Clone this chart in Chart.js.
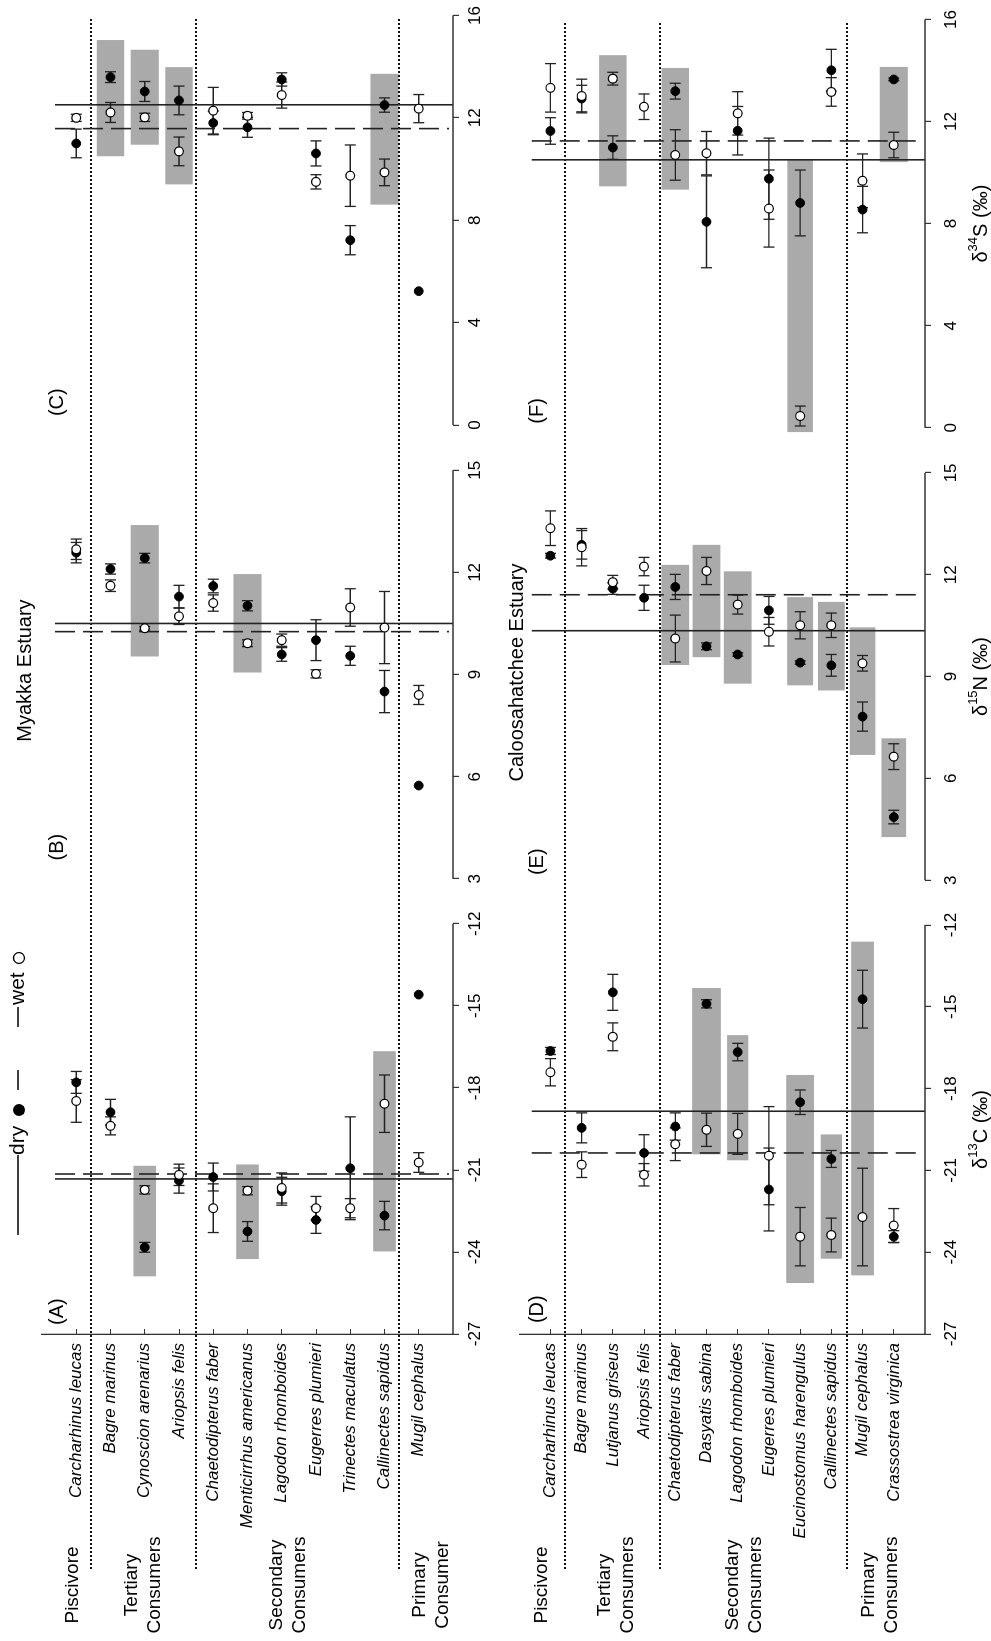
<!DOCTYPE html>
<html>
<head>
<meta charset="utf-8">
<script src="https://cdn.jsdelivr.net/npm/chart.js@4.4.1/dist/chart.umd.min.js"></script>
<style>
  html, body { margin: 0; padding: 0; width: 991px; height: 1641px; overflow: hidden; background: #fff; }
  /* figure is laid out landscape, then turned a quarter turn to the left */
  #fig { position: absolute; left: 0; top: 0; width: 1641px; height: 991px;
         transform-origin: 0 0; transform: translateY(1641px) rotate(-90deg); }
  #fig canvas { position: absolute; left: 0; }
  #rowTop { top: 0; }
  #rowBot { top: 495px; }
</style>
</head>
<body>
<div id="fig">
  <canvas id="rowTop" width="1641" height="495"></canvas>
  <canvas id="rowBot" width="1641" height="496"></canvas>
</div>
<script>
var FONT = '"Liberation Sans", Arial, Helvetica, sans-serif';

// tick labels of the three value axes
var carbonTicks = [-27, -24, -21, -18, -15, -12];
var nitrogenTicks = [3, 6, 9, 12, 15];
var sulfurTicks = [0, 4, 8, 12, 16];

// ---- Myakka Estuary ----
var myakkaSpecies = ['Carcharhinus leucas', 'Bagre marinus', 'Cynoscion arenarius', 'Ariopsis felis',
  'Chaetodipterus faber', 'Menticirrhus americanus', 'Lagodon rhomboides', 'Eugerres plumieri',
  'Trinectes maculatus', 'Callinectes sapidus', 'Mugil cephalus'];
var myakkaGroups = [
  { lines: ['Piscivore'], at: 0.91 },
  { lines: ['Tertiary', 'Consumers'], at: 2.97 },
  { lines: ['Secondary', 'Consumers'], at: 7.18 },
  { lines: ['Primary', 'Consumer'], at: 11.37 }
];
var myakkaSeparators = [1.43, 4.5, 10.42];

var myakkaCarbonDry = [-17.80, -18.89, -23.83, -21.39, -21.26, -23.25, -21.78, -22.83, -20.94, -22.67, -14.59];
var myakkaCarbonDryErr = [0.40, 0.47, 0.18, 0.46, 0.51, 0.36, 0.51, 0.49, 1.88, 0.52, 0];
var myakkaCarbonWet = [-18.48, -19.39, -21.73, -21.18, -22.40, -21.76, -21.66, -22.40, -22.40, -18.58, -20.73];
var myakkaCarbonWetErr = [0.78, 0.33, 0.15, 0.39, 0.89, 0.15, 0.55, 0.43, 0.35, 1.05, 0.36];
var myakkaCarbonMeans = [-21.33, -21.15];            // dry (solid), wet (dashed)
var myakkaCarbonShade = [[3, -24.89, -20.85], [6, -24.26, -20.80], [10, -23.98, -16.66]];

var myakkaNitrogenDry = [12.58, 12.10, 12.42, 11.29, 11.60, 11.02, 9.59, 10.01, 9.55, 8.50, 5.74];
var myakkaNitrogenDryErr = [0.30, 0.15, 0.14, 0.33, 0.20, 0.15, 0.20, 0.60, 0.28, 0.62, 0];
var myakkaNitrogenWet = [12.68, 11.61, 10.36, 10.71, 11.10, 9.92, 10.01, 9.02, 10.97, 10.38, 8.40];
var myakkaNitrogenWetErr = [0.30, 0.17, 0.05, 0.24, 0.24, 0.10, 0.18, 0.12, 0.55, 1.06, 0.28];
var myakkaNitrogenMeans = [10.50, 10.26];
var myakkaNitrogenShade = [[3, 9.53, 13.39], [6, 9.06, 11.95]];

var myakkaSulfurDry = [11.00, 13.59, 13.03, 12.68, 11.80, 11.63, 13.50, 10.61, 7.22, 12.50, 5.23];
var myakkaSulfurDryErr = [0.56, 0.21, 0.39, 0.56, 0.46, 0.39, 0.26, 0.49, 0.57, 0.28, 0];
var myakkaSulfurWet = [12.00, 12.21, 12.02, 10.69, 12.28, 12.08, 12.89, 9.50, 9.74, 9.87, 12.36];
var myakkaSulfurWetErr = [0.14, 0.39, 0.16, 0.56, 0.91, 0.13, 0.51, 0.28, 1.20, 0.52, 0.55];
var myakkaSulfurMeans = [12.51, 11.58];
var myakkaSulfurShade = [[2, 10.50, 15.04], [3, 10.95, 14.66], [4, 9.40, 13.98], [10, 8.61, 13.72]];

// ---- Caloosahatchee Estuary ----
var caloSpecies = ['Carcharhinus leucas', 'Bagre marinus', 'Lutjanus griseus', 'Ariopsis felis',
  'Chaetodipterus faber', 'Dasyatis sabina', 'Lagodon rhomboides', 'Eugerres plumieri',
  'Eucinostomus harengulus', 'Callinectes sapidus', 'Mugil cephalus', 'Crassostrea virginica'];
var caloGroups = [
  { lines: ['Piscivore'], at: 0.72 },
  { lines: ['Tertiary', 'Consumers'], at: 3.12 },
  { lines: ['Secondary', 'Consumers'], at: 7.2 },
  { lines: ['Primary', 'Consumers'], at: 11.58 }
];
var caloSeparators = [1.47, 4.5, 10.5];

var caloCarbonDry = [-16.62, -19.44, -14.47, -20.36, -19.39, -14.89, -16.66, -21.70, -18.50, -20.58, -14.72, -23.43];
var caloCarbonDryErr = [0.13, 0.55, 0.66, 0.67, 0.50, 0.15, 0.32, 1.52, 0.45, 0.31, 1.06, 0.22];
var caloCarbonWet = [-17.40, -20.79, -16.10, -21.16, -20.04, -19.51, -19.66, -20.46, -23.43, -23.37, -22.71, -23.02];
var caloCarbonWetErr = [0.50, 0.47, 0.51, 0.41, 0.60, 0.61, 0.75, 1.80, 1.07, 0.62, 1.79, 0.62];
var caloCarbonMeans = [-18.83, -20.36];
var caloCarbonShade = [[6, -20.41, -14.31], [7, -20.63, -16.04], [9, -25.13, -17.50], [10, -24.24, -19.68], [11, -24.85, -12.61]];

var caloNitrogenDry = [12.56, 12.88, 11.59, 11.32, 11.64, 9.89, 9.65, 10.95, 9.41, 9.33, 7.82, 4.86];
var caloNitrogenDryErr = [0.07, 0.42, 0.17, 0.37, 0.37, 0.10, 0.05, 0.41, 0.05, 0.32, 0.43, 0.20];
var caloNitrogenWet = [13.37, 12.81, 11.78, 12.24, 10.12, 12.11, 11.12, 10.32, 10.51, 10.51, 9.39, 6.64];
var caloNitrogenWetErr = [0.51, 0.55, 0.20, 0.27, 0.69, 0.40, 0.28, 0.42, 0.40, 0.36, 0.23, 0.38];
var caloNitrogenMeans = [10.35, 11.41];
var caloNitrogenShade = [[5, 9.34, 12.29], [6, 9.57, 12.88], [7, 8.79, 12.10], [9, 8.74, 11.34], [10, 8.59, 11.20], [11, 6.69, 10.45], [12, 4.27, 7.18]];

var caloSulfurDry = [11.63, 12.90, 10.98, null, 13.19, 8.07, 11.64, 9.76, 8.81, 14.01, 8.55, 13.65];
var caloSulfurDryErr = [0.52, 0.52, 0.46, 0, 0.31, 1.80, 0.95, 1.59, 1.29, 0.82, 0.91, 0.05];
var caloSulfurWet = [13.32, 13.00, 13.68, 12.58, 10.69, 10.76, 12.32, 8.59, 0.46, 13.16, 9.68, 11.08];
var caloSulfurWetErr = [0.95, 0.66, 0.25, 0.50, 0.99, 0.85, 0.85, 1.51, 0.39, 0.56, 1.05, 0.50];
var caloSulfurMeans = [10.50, 11.24];
var caloSulfurShade = [[3, 9.46, 14.60], [5, 9.33, 14.10], [9, -0.17, 10.52], [12, 10.41, 14.14]];

// ---- layout / style ----
// each value axis gets a share of the plot width; ranges include the gap between panels
var axisLayout = {
  xC: { min: -27, max: -11.178, weight: 433.2, ticks: carbonTicks, title: ['δ', '13', 'C (‰)'] },
  xN: { min: 2.34, max: 15.665, weight: 454.15, ticks: nitrogenTicks, title: ['δ', '15', 'N (‰)'] },
  xS: { min: -0.884, max: 16, weight: 432.65, ticks: sulfurTicks, title: ['δ', '34', 'S (‰)'] }
};
var shadeWidths = {
  myakka: { xC: [0.66, 0.66, 0.66], xN: [0.82, 0.82], xS: [0.8, 0.82, 0.8, 0.82] },
  calo: { xC: [0.92, 0.68, 0.89, 0.68, 0.73], xN: [0.89, 0.89, 0.89, 0.83, 0.86, 0.82, 0.79], xS: [0.88, 0.88, 0.82, 0.9] }
};

function toPoints(vals) {
  var out = [];
  vals.forEach(function (v, i) { if (v !== null) out.push({ x: v, y: i + 1 }); });
  return out;
}

function drawBars(ctx, xs, ys, vals, errs) {
  vals.forEach(function (v, i) {
    var e = errs[i];
    if (v === null || !e) return;
    var y = ys.getPixelForValue(i + 1);
    var a = xs.getPixelForValue(v - e), b = xs.getPixelForValue(v + e);
    ctx.beginPath();
    ctx.moveTo(a, y); ctx.lineTo(b, y);
    ctx.moveTo(a, y - 5.5); ctx.lineTo(a, y + 5.5);
    ctx.moveTo(b, y - 5.5); ctx.lineTo(b, y + 5.5);
    ctx.stroke();
  });
}

function drawSupText(ctx, parts, cx, cy, size) {
  ctx.font = size + 'px ' + FONT;
  var w1 = ctx.measureText(parts[0]).width, w3 = ctx.measureText(parts[2]).width;
  ctx.font = Math.round(size * 0.65) + 'px ' + FONT;
  var w2 = ctx.measureText(parts[1]).width;
  var x = cx - (w1 + w2 + w3) / 2;
  ctx.textAlign = 'left';
  ctx.textBaseline = 'middle';
  ctx.font = size + 'px ' + FONT;
  ctx.fillText(parts[0], x, cy);
  ctx.font = Math.round(size * 0.65) + 'px ' + FONT;
  ctx.fillText(parts[1], x + w1, cy - size * 0.38);
  ctx.font = size + 'px ' + FONT;
  ctx.fillText(parts[2], x + w1 + w2, cy);
}

var figPlugin = {
  id: 'fig',
  beforeDatasetsDraw: function (chart) {
    var o = chart.options.plugins.fig;
    var ctx = chart.ctx, ys = chart.scales.y, area = chart.chartArea;
    ctx.save();
    // grey boxes
    ctx.fillStyle = '#aaaaaa';
    o.panels.forEach(function (p) {
      var xs = chart.scales[p.axis];
      p.shade.forEach(function (s, k) {
        var half = p.shadeW[k] / 2;
        var x1 = xs.getPixelForValue(s[1]), x2 = xs.getPixelForValue(s[2]);
        var y1 = ys.getPixelForValue(s[0] - half), y2 = ys.getPixelForValue(s[0] + half);
        ctx.fillRect(x1, y1, x2 - x1, y2 - y1);
      });
    });
    // dotted separators between trophic groups
    ctx.strokeStyle = '#111';
    ctx.lineWidth = 2;
    ctx.setLineDash([2, 2]);
    o.separators.forEach(function (s) {
      var y = Math.round(ys.getPixelForValue(s));
      ctx.beginPath(); ctx.moveTo(72, y); ctx.lineTo(area.right - 3, y); ctx.stroke();
    });
    // season means
    ctx.strokeStyle = '#222';
    ctx.lineWidth = 1.6;
    o.panels.forEach(function (p) {
      var xs = chart.scales[p.axis];
      var top = ys.getPixelForValue(o.meanFrom);
      var xd = xs.getPixelForValue(p.means[0]);
      ctx.setLineDash([]);
      ctx.beginPath(); ctx.moveTo(xd, top); ctx.lineTo(xd, area.bottom); ctx.stroke();
      var xw = xs.getPixelForValue(p.means[1]);
      ctx.setLineDash([20, 8]);
      ctx.beginPath(); ctx.moveTo(xw, top); ctx.lineTo(xw, area.bottom - 4); ctx.stroke();
    });
    ctx.setLineDash([]);
    // value axis lines from first to last tick
    ctx.strokeStyle = '#333';
    ctx.lineWidth = 1.3;
    o.panels.forEach(function (p) {
      var xs = chart.scales[p.axis];
      var t = axisLayout[p.axis].ticks;
      ctx.beginPath();
      ctx.moveTo(xs.getPixelForValue(t[0]), xs.top);
      ctx.lineTo(xs.getPixelForValue(t[t.length - 1]), xs.top);
      ctx.stroke();
    });
    // error bars
    ctx.strokeStyle = '#222';
    ctx.lineWidth = 1.3;
    o.panels.forEach(function (p) {
      var xs = chart.scales[p.axis];
      drawBars(ctx, xs, ys, p.dry, p.dryErr);
      drawBars(ctx, xs, ys, p.wet, p.wetErr);
    });
    ctx.restore();
  },
  afterDraw: function (chart) {
    var o = chart.options.plugins.fig;
    var ctx = chart.ctx, ys = chart.scales.y, area = chart.chartArea;
    ctx.save();
    ctx.fillStyle = '#000';
    // trophic group names
    ctx.font = '19px ' + FONT;
    ctx.textAlign = 'center';
    ctx.textBaseline = 'middle';
    o.groups.forEach(function (g) {
      var yc = ys.getPixelForValue(g.at);
      g.lines.forEach(function (line, j) {
        ctx.fillText(line, 56, yc + (j - (g.lines.length - 1) / 2) * 23);
      });
    });
    // panel letters
    ctx.font = '20px ' + FONT;
    ctx.textAlign = 'left';
    o.panels.forEach(function (p) {
      ctx.fillText(p.letter, chart.scales[p.axis].getPixelForValue(p.letterAt), area.top + o.letterDy);
    });
    // estuary title
    ctx.textAlign = 'center';
    ctx.font = '20px ' + FONT;
    ctx.fillText(o.title, chart.scales.xN.getPixelForValue(9) + 4, o.titleY);
    // value axis titles
    if (o.axisTitleY) {
      o.panels.forEach(function (p) {
        var t = axisLayout[p.axis].ticks;
        var cx = chart.scales[p.axis].getPixelForValue((t[0] + t[t.length - 1]) / 2);
        drawSupText(ctx, axisLayout[p.axis].title, cx, o.axisTitleY, 20);
      });
    }
    // legend
    if (o.legend) {
      var y = 18;
      ctx.strokeStyle = '#000';
      ctx.lineWidth = 1.3;
      ctx.beginPath(); ctx.moveTo(406, y); ctx.lineTo(486, y); ctx.stroke();
      ctx.font = '21px ' + FONT;
      ctx.textAlign = 'left';
      ctx.fillText('dry', 486, y);
      ctx.beginPath(); ctx.arc(531, y + 1, 6, 0, Math.PI * 2); ctx.fill();
      ctx.setLineDash([20, 43]);
      ctx.beginPath(); ctx.moveTo(551, y); ctx.lineTo(636, y); ctx.stroke();
      ctx.setLineDash([]);
      ctx.fillText('wet', 636, y);
      ctx.fillStyle = '#fff';
      ctx.beginPath(); ctx.arc(683, y + 1, 5.5, 0, Math.PI * 2); ctx.fill(); ctx.stroke();
    }
    ctx.restore();
  }
};

function buildRow(canvasId, species, panels, extra) {
  var datasets = [];
  var scales = {
    y: {
      type: 'linear', position: 'left', min: 0, max: species.length + 1, reverse: true,
      afterBuildTicks: function (s) { s.ticks = species.map(function (_, i) { return { value: i + 1 }; }); },
      afterFit: function (s) { s.width = 307; },
      ticks: {
        autoSkip: false, color: '#000', padding: 14,
        font: { family: FONT, size: 17, style: 'italic' },
        callback: function (v) { return species[v - 1]; }
      },
      grid: { drawOnChartArea: false, tickLength: -5, color: '#333', lineWidth: 1 },
      border: { display: true, color: '#333', width: 1.3 }
    }
  };
  panels.forEach(function (p) {
    var ax = axisLayout[p.axis];
    datasets.push({
      label: p.letter + ' wet', xAxisID: p.axis, yAxisID: 'y', order: 1,
      data: toPoints(p.wet), pointRadius: 4.4, pointBackgroundColor: '#fff',
      pointBorderColor: '#000', pointBorderWidth: 1.2, showLine: false
    });
    datasets.push({
      label: p.letter + ' dry', xAxisID: p.axis, yAxisID: 'y', order: 2,
      data: toPoints(p.dry), pointRadius: 4.4, pointBackgroundColor: '#000',
      pointBorderColor: '#000', pointBorderWidth: 1, showLine: false
    });
    scales[p.axis] = {
      type: 'linear', position: 'bottom', stack: 'values', stackWeight: ax.weight,
      min: ax.min, max: ax.max,
      afterBuildTicks: function (s) { s.ticks = ax.ticks.map(function (v) { return { value: v }; }); },
      afterFit: function (s) { s.height = extra.axisHeight; },
      ticks: {
        autoSkip: false, maxRotation: 0, color: '#000', padding: extra.tickPad,
        font: { family: FONT, size: 17 },
        callback: function (v) { return String(v); }
      },
      grid: { drawOnChartArea: false, tickLength: 6, color: '#333', lineWidth: 1.2 },
      border: { display: false }
    };
  });
  return new Chart(document.getElementById(canvasId), {
    type: 'scatter',
    data: { datasets: datasets },
    options: {
      responsive: false, animation: false, devicePixelRatio: 1, events: [],
      layout: { padding: { left: 0, right: 14, top: extra.padTop, bottom: 0 } },
      scales: scales,
      plugins: {
        legend: { display: false },
        tooltip: { enabled: false },
        fig: {
          panels: panels, groups: extra.groups, separators: extra.separators,
          title: extra.title, titleY: extra.titleY, letterDy: extra.letterDy,
          meanFrom: extra.meanFrom, legend: extra.legend, axisTitleY: extra.axisTitleY
        }
      }
    },
    plugins: [figPlugin]
  });
}

buildRow('rowTop', myakkaSpecies, [
  { axis: 'xC', letter: '(A)', letterAt: -26.67, dry: myakkaCarbonDry, dryErr: myakkaCarbonDryErr,
    wet: myakkaCarbonWet, wetErr: myakkaCarbonWetErr, means: myakkaCarbonMeans,
    shade: myakkaCarbonShade, shadeW: shadeWidths.myakka.xC },
  { axis: 'xN', letter: '(B)', letterAt: 3.54, dry: myakkaNitrogenDry, dryErr: myakkaNitrogenDryErr,
    wet: myakkaNitrogenWet, wetErr: myakkaNitrogenWetErr, means: myakkaNitrogenMeans,
    shade: myakkaNitrogenShade, shadeW: shadeWidths.myakka.xN },
  { axis: 'xS', letter: '(C)', letterAt: 0.35, dry: myakkaSulfurDry, dryErr: myakkaSulfurDryErr,
    wet: myakkaSulfurWet, wetErr: myakkaSulfurWetErr, means: myakkaSulfurMeans,
    shade: myakkaSulfurShade, shadeW: shadeWidths.myakka.xS }
], {
  groups: myakkaGroups, separators: myakkaSeparators, title: 'Myakka Estuary', titleY: 25,
  padTop: 42, axisHeight: 42, tickPad: 6, letterDy: 15.5, meanFrom: 0.38, legend: true, axisTitleY: 0
});

buildRow('rowBot', caloSpecies, [
  { axis: 'xC', letter: '(D)', letterAt: -26.6, dry: caloCarbonDry, dryErr: caloCarbonDryErr,
    wet: caloCarbonWet, wetErr: caloCarbonWetErr, means: caloCarbonMeans,
    shade: caloCarbonShade, shadeW: shadeWidths.calo.xC },
  { axis: 'xN', letter: '(E)', letterAt: 3.15, dry: caloNitrogenDry, dryErr: caloNitrogenDryErr,
    wet: caloNitrogenWet, wetErr: caloNitrogenWetErr, means: caloNitrogenMeans,
    shade: caloNitrogenShade, shadeW: shadeWidths.calo.xN },
  { axis: 'xS', letter: '(F)', letterAt: 0.16, dry: caloSulfurDry, dryErr: caloSulfurDryErr,
    wet: caloSulfurWet, wetErr: caloSulfurWetErr, means: caloSulfurMeans,
    shade: caloSulfurShade, shadeW: shadeWidths.calo.xS }
], {
  groups: caloGroups, separators: caloSeparators, title: 'Caloosahatchee Estuary', titleY: 22,
  padTop: 19.4, axisHeight: 66, tickPad: 10, letterDy: 18.6, meanFrom: 0.4, legend: false, axisTitleY: 486
});
</script>
</body>
</html>
